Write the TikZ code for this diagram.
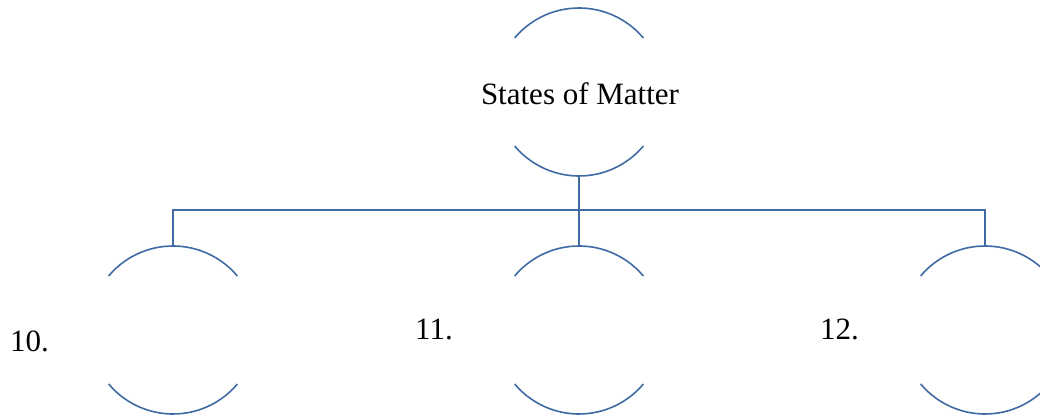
\documentclass[tikz,border=0pt]{standalone}
\usepackage{fontspec}
\setmainfont{Liberation Serif}
\definecolor{linkblue}{RGB}{64,106,163}
\begin{document}
\begin{tikzpicture}[x=1pt,y=1pt,
  ring/.style={circle,draw=none,minimum size=168pt,inner sep=0pt,outer sep=0pt},
  arcline/.style={draw=linkblue,line width=1.6pt},
  conn/.style={draw=linkblue,line width=1.6pt},
  lbl/.style={inner sep=0pt,font=\fontsize{31}{37}\selectfont,text=black}]
\useasboundingbox (0,0) rectangle (1040,417);
\clip (0,0) rectangle (1040,417);
\node[ring] (c0) at (579,325) {};
\node[ring] (c1) at (173,87) {};
\node[ring] (c2) at (579,87) {};
\node[ring] (c3) at (985,87) {};
\foreach \n in {c0,c1,c2,c3}{
  \draw[arcline] (\n.40) arc (40:140:84pt);
  \draw[arcline] (\n.220) arc (220:320:84pt);
}
\node[lbl,anchor=base] (t0) at (580,312) {States of Matter};
\node[lbl,anchor=base west] (t1) at (10,65) {10.};
\node[lbl,anchor=base west] (t2) at (415,77) {11.};
\node[lbl,anchor=base west] (t3) at (820,77) {12.};
\coordinate (j) at (579,207);
\draw[conn] (c0.south) -- (j);
\draw[conn] (c1.north) |- (j);
\draw[conn] (j) -| (c3.north);
\draw[conn] (j) -- (c2.north);
\end{tikzpicture}
\end{document}
